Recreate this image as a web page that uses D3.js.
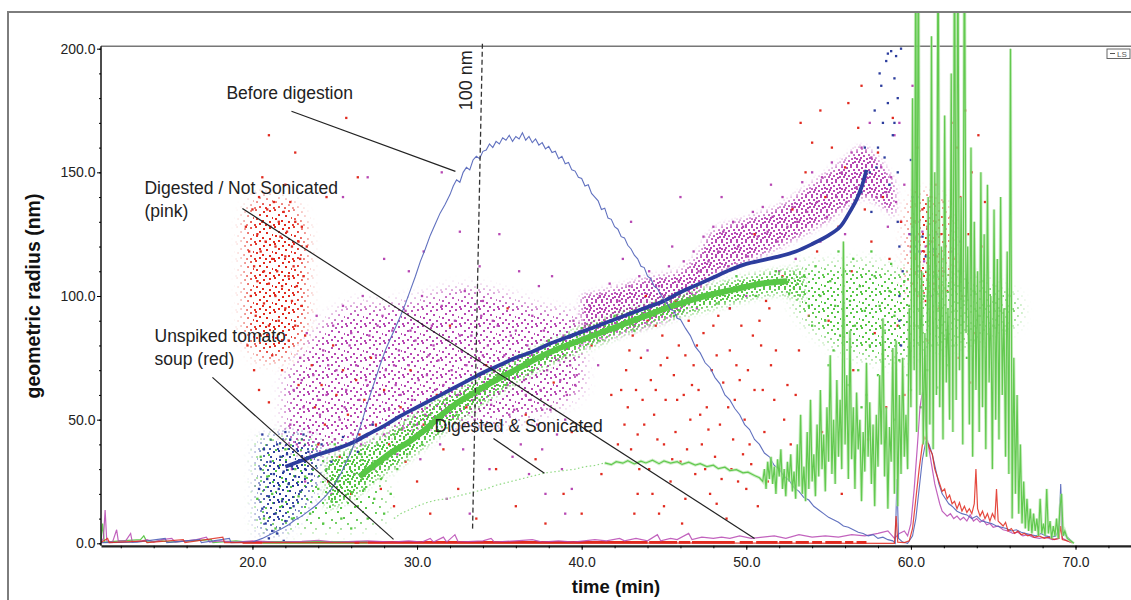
<!DOCTYPE html>
<html>
<head>
<meta charset="utf-8">
<script src="https://cdn.jsdelivr.net/npm/d3@7"></script>
<style>
  body { margin: 0; background: #fff; }
  text { font-family: "Liberation Sans", Arial, Helvetica, sans-serif; }
</style>
</head>
<body>
<svg id="chart" width="1131" height="600"></svg>
<script>
"use strict";
// ---- data (time in min, radius in nm) ----
const xTicks = [20, 30, 40, 50, 60, 70];
const yTicks = [0, 50, 100, 150, 200];

// LS detector traces
const blueLs = [[10.8,0.3],[13.0,0.5],[14.7,2],[14.8,0.3],[16.8,1.5],[16.9,0.3],[18.6,2],[18.7,0.3],[20.0,0.5],[20.6,2],[21.2,4],[21.8,6],[22.2,7.5],[22.6,9.5],[23.0,11],[23.3,12.5],[23.6,14],[23.9,15.5],[24.2,17.5],[24.5,19.5],[24.8,22],[25.1,25],[25.4,28.5],[25.7,33],[26.0,37],[26.3,42.5],[26.6,48],[26.9,55],[27.2,61],[27.5,67],[27.8,73],[28.1,78.5],[28.4,83],[28.7,87.5],[29.0,92],[29.3,97],[29.6,102.5],[29.9,108],[30.2,114],[30.5,119],[30.8,124.5],[31.1,129],[31.4,133.5],[31.7,137],[32.0,141],[32.2,144.5],[32.4,147],[32.6,146],[32.8,150],[33.0,152],[33.2,151],[33.4,155],[33.6,156.5],[33.8,155.5],[34.0,158.5],[34.2,159],[34.4,161.5],[34.6,160],[34.8,162.5],[35.0,161.5],[35.2,164],[35.4,163],[35.6,165],[35.8,162.5],[36.0,164.5],[36.2,163.5],[36.4,166],[36.6,163],[36.8,164.5],[37.0,162],[37.2,163.5],[37.4,161],[37.6,162],[37.8,159.5],[38.0,160.5],[38.2,158],[38.4,158.5],[38.6,155.5],[38.8,156.5],[39.0,153.5],[39.2,154],[39.4,151],[39.6,150.5],[39.8,148],[40.0,147.5],[40.2,144.5],[40.4,145],[40.6,141.5],[40.8,140],[41.0,138.5],[41.2,135],[41.4,135.5],[41.6,131.5],[41.8,131],[42.0,128],[42.2,127],[42.4,124],[42.6,123.5],[42.8,120.5],[43.0,119],[43.2,116.5],[43.4,115],[43.6,112],[43.8,111.5],[44.0,108],[44.2,107],[44.4,104],[44.6,103],[44.8,100.5],[45.0,98.5],[45.2,97],[45.4,94.5],[45.6,94],[45.8,91],[46.0,90.5],[46.3,87],[46.6,84],[46.9,79.5],[47.2,77],[47.5,73],[47.8,71],[48.1,67],[48.4,64.5],[48.7,60],[49.0,58],[49.3,54.5],[49.6,52],[49.9,48],[50.2,46],[50.5,42],[50.8,40],[51.1,36.5],[51.4,35],[51.7,31.5],[52.0,30],[52.3,27],[52.6,25.5],[52.9,22.5],[53.2,21],[53.5,18.5],[53.8,17.5],[54.1,15],[54.4,13.5],[54.7,12],[55.0,10.5],[55.3,9.5],[55.6,8.5],[55.9,7],[56.2,6.5],[56.5,5.5],[56.8,4.5],[57.1,4],[57.4,3],[57.7,3.5],[58.0,2],[58.3,2.5],[58.6,1.5],[58.9,1],[59.05,0],[59.15,26],[59.25,2],[59.5,0.5],[59.8,0],[60.1,3],[60.3,10],[60.5,22],[60.7,34],[60.9,41],[61.1,40],[61.3,36],[61.5,30],[61.7,24],[61.9,20],[62.1,18],[62.3,16],[62.5,15],[62.8,13],[63.1,12],[63.4,11.5],[63.7,10],[64.0,11],[64.3,9],[64.6,8.5],[64.9,8],[65.2,7],[65.5,6.5],[65.8,6],[66.1,5],[66.4,5.5],[66.7,4.5],[67.0,4],[67.3,3.5],[67.6,3],[67.9,4],[68.2,3],[68.5,2.5],[68.8,3],[69.0,6],[69.1,24],[69.2,5],[69.4,3],[69.6,2],[69.8,0.5]];

const redLs = [[10.8,0.3],[11.2,2],[11.3,0.3],[13.5,1],[13.6,0.3],[15.8,1.5],[15.9,0.3],[18.2,2.5],[18.3,0.3],[59.0,0],[59.1,11],[59.2,0.5],[59.6,0.3],[59.9,1],[60.1,6],[60.3,18],[60.5,30],[60.7,40],[60.85,43],[61.0,41],[61.15,38],[61.3,36],[61.45,30],[61.6,27],[61.75,24],[61.9,21],[62.05,22],[62.2,18],[62.35,19.5],[62.5,16],[62.65,17],[62.8,14],[62.95,16.5],[63.1,13],[63.25,15],[63.4,12.5],[63.55,14],[63.7,12],[63.85,16],[63.95,30],[64.05,14],[64.2,11],[64.35,13],[64.5,10],[64.65,12],[64.8,9],[64.95,12],[65.1,10],[65.2,22],[65.3,9],[65.45,8],[65.6,7],[65.75,8.5],[65.9,5],[66.1,6],[66.3,4],[66.5,5],[66.7,3.5],[66.9,4],[67.1,3],[67.3,3.5],[67.5,2.4],[67.8,3],[68.1,2],[68.4,2.5],[68.7,1.5],[69.0,2],[69.1,7],[69.2,1.5],[69.5,1],[69.8,0.3]];

const pinkLs = [[10.8,0.5],[10.95,2],[11.05,13.5],[11.15,1],[11.5,0.5],[11.75,5.5],[11.85,1],[12.3,1],[12.6,4],[12.7,0.5],[13.3,1],[13.6,1.5],[14.0,0.5],[14.5,1.5],[15.1,2],[15.3,0.5],[16.0,1],[16.6,1.5],[17.2,2.5],[17.4,0.5],[18.0,1],[19.0,0.5],[20.0,1],[21.5,0.5],[23.0,0.8],[24.0,1.2],[25.0,0.5],[27.0,1],[28.5,0.5],[29.5,1],[30.3,0.5],[30.8,2],[31.0,0.5],[31.6,2.5],[31.8,0.5],[32.3,3.5],[32.5,0.5],[34.0,1],[34.5,2],[34.7,0.5],[36.0,1],[37.0,1.5],[37.6,0.5],[38.6,1],[39.5,0.5],[40.8,1.5],[41.5,1],[42.3,2],[42.6,1],[43.3,2],[44.0,1],[44.6,3.5],[44.8,1],[45.4,2],[45.8,1.5],[46.5,4],[46.7,1.5],[47.3,2.5],[48.0,2],[48.5,2.5],[49.0,2],[49.6,3],[50.3,2],[51.0,2.5],[51.7,3],[52.4,2],[53.2,3.5],[54.0,2.5],[54.8,3],[55.6,2.5],[56.4,3.5],[57.2,3],[58.0,4],[58.6,5],[59.0,2],[59.3,4],[59.6,5],[59.8,3],[60.0,8],[60.2,22],[60.4,40],[60.55,55],[60.7,61],[60.8,58],[60.9,48],[61.0,42],[61.15,36],[61.3,30],[61.45,24],[61.6,20],[61.75,16],[61.9,13],[62.05,12],[62.2,11],[62.4,12],[62.6,10],[62.8,11],[63.0,9.5],[63.2,10.5],[63.4,9],[63.6,11.5],[63.8,9],[64.0,10],[64.2,8.5],[64.4,9.5],[64.6,7.5],[64.8,8],[65.0,6.5],[65.3,7],[65.6,5.5],[65.9,5],[66.2,4],[66.5,4.5],[66.8,3],[67.1,3.5],[67.4,2.5],[67.8,2],[68.2,2.5],[68.6,1.5],[69.0,2],[69.1,20],[69.2,2],[69.5,1],[69.8,0.3]];

const greenLsBase = [[10.8,0.5],[10.9,8],[11.0,0.5],[12.0,1],[13.2,1.5],[13.4,3],[13.6,0.5],[14.5,1],[15.0,0.5],[17.5,1.5],[17.6,0.3],[19.0,1],[20.0,0.3]];
const greenLsFaint = [[28.6,10],[29.0,12],[29.5,13.5],[30.0,15],[30.6,16.5],[31.2,17.5],[31.8,18],[32.4,19],[33.0,20],[33.6,21],[34.2,22],[34.8,23.5],[35.4,24.5],[36.0,25.5],[36.6,26.5],[37.2,27.5],[37.8,28.5],[38.4,29],[39.0,29.5],[39.6,30],[40.2,31],[40.8,31.5],[41.4,32.5]];
const greenLs = [[41.4,32.5],[41.8,31.8],[42.1,33],[42.5,32.4],[42.8,33.4],[43.2,32.1],[43.6,33.2],[43.9,32.5],[44.3,33.6],[44.7,32.2],[45.0,33.3],[45.4,32.4],[45.8,33],[46.1,31.9],[46.5,32.8],[46.9,31.6],[47.2,32.2],[47.6,31],[48.0,31.6],[48.3,30.2],[48.7,30.8],[49.0,29.4],[49.4,29.8],[49.8,28.5],[50.1,28.8],[50.5,27.4],[50.8,26.5],[51.0,25],[51.1,30],[51.2,22],[51.3,33],[51.4,26],[51.5,35],[51.6,24],[51.7,31],[51.8,20],[51.9,34],[52.0,27],[52.1,38],[52.2,22],[52.3,30],[52.4,19],[52.5,33],[52.6,25],[52.7,36],[52.8,21],[52.9,29],[53.0,18],[53.1,40],[53.2,23],[53.3,52],[53.4,20],[53.5,31],[53.6,17],[53.7,45],[53.8,22],[53.9,58],[54.0,25],[54.1,36],[54.2,19],[54.3,48],[54.4,27],[54.5,62],[54.6,30],[54.7,44],[54.8,21],[54.9,55],[55.0,33],[55.1,76],[55.2,28],[55.3,50],[55.4,24],[55.5,66],[55.6,35],[55.7,58],[55.8,30],[55.9,122],[56.0,40],[56.1,68],[56.2,26],[56.3,86],[56.4,34],[56.5,55],[56.6,22],[56.7,61],[56.8,38],[56.9,50],[57.0,17],[57.1,45],[57.2,29],[57.3,73],[57.4,35],[57.5,57],[57.6,24],[57.7,48],[57.8,15],[57.9,52],[58.0,31],[58.1,68],[58.2,40],[58.3,91],[58.4,27],[58.5,55],[58.6,14],[58.7,47],[58.8,33],[58.9,79],[59.0,20],[59.1,82],[59.2,15],[59.3,60],[59.4,28],[59.5,75],[59.6,35],[59.7,52],[59.8,30],[59.9,95],[60.0,55],[60.1,180],[60.2,70],[60.3,260],[60.35,45],[60.45,255],[60.55,60],[60.65,110],[60.75,40],[60.85,85],[60.95,35],[61.05,140],[61.15,48],[61.25,205],[61.35,38],[61.45,150],[61.55,60],[61.65,260],[61.75,55],[61.85,120],[61.95,42],[62.05,173],[62.15,65],[62.25,95],[62.35,50],[62.45,190],[62.55,45],[62.65,260],[62.75,58],[62.85,255],[62.95,70],[63.05,140],[63.15,40],[63.25,260],[63.35,85],[63.45,120],[63.55,48],[63.65,160],[63.75,35],[63.85,130],[63.95,62],[64.05,110],[64.15,45],[64.25,150],[64.35,55],[64.45,125],[64.55,38],[64.65,145],[64.75,65],[64.85,100],[64.95,30],[65.05,135],[65.15,50],[65.25,115],[65.35,42],[65.45,140],[65.55,60],[65.65,95],[65.75,35],[65.85,118],[65.95,28],[66.05,200],[66.15,10],[66.25,75],[66.35,20],[66.45,60],[66.55,12],[66.65,40],[66.75,8],[66.85,25],[66.95,6],[67.05,18],[67.15,5],[67.25,14],[67.35,4],[67.45,12],[67.55,5],[67.65,10],[67.75,3],[67.85,18],[67.95,4],[68.05,8],[68.15,3],[68.25,22],[68.35,4],[68.45,9],[68.55,2],[68.65,7],[68.75,3],[68.85,10],[68.95,2],[69.05,14],[69.15,20],[69.25,3],[69.35,5],[69.5,2],[69.7,1],[69.9,0]];

// radius scatter (MALS): dense streaks by centre line, clouds by lower/upper bounds
const blueBand = [[22.0,31],[23.0,33.5],[24.0,36],[25.0,38],[26.0,40.5],[27.0,44],[28.0,47.5],[29.0,51.5],[30.0,55],[31.0,58.5],[32.0,62],[33.0,65.5],[34.0,69],[35.0,72],[36.0,75],[37.0,77.5],[38.0,80.5],[39.0,83],[40.0,85.5],[41.0,88],[42.0,90.5],[43.0,93],[44.0,95.5],[45.0,98],[46.0,101.5],[47.0,104.5],[48.0,107.5],[49.0,110.5],[50.0,113],[51.0,114.5],[52.0,116],[53.0,118],[54.0,121],[55.0,124.5],[55.7,128],[56.2,133],[56.7,139],[57.0,144],[57.3,151]];
const greenBand = [[26.5,27],[27.5,32],[28.5,37],[29.5,41],[30.5,46],[31.5,52],[32.5,57],[33.5,61],[34.5,65],[35.5,68.5],[36.5,72],[37.5,75.5],[38.5,78.5],[39.5,81],[40.5,83.5],[41.5,86],[42.5,88.5],[43.5,91],[44.5,93.5],[45.5,96],[46.5,98],[47.5,100],[48.5,101.5],[49.5,103],[50.5,104.5],[51.5,105.5],[52.5,106]];

const pinkBandT = [40, 42, 44, 46, 47, 48, 50, 52, 54, 55, 56, 57, 58, 59];
const pinkBandLo = [80, 84, 88, 93, 100, 108, 114, 120, 127, 131, 136, 140, 138, 132];
const pinkBandHi = [100, 103, 107, 110, 116, 126, 131, 136, 145, 150, 155, 160, 155, 145];
const pinkCloudT = [22, 24, 26, 28, 30, 32, 34, 36, 38, 40];
const pinkCloudLo = [38, 36, 40, 44, 46, 48, 48, 50, 54, 62];
const pinkCloudHi = [66, 86, 96, 96, 98, 102, 102, 98, 94, 92];
const greenStreakT = [24.5, 26, 27.5, 29, 31, 33, 35, 37, 40, 43, 46, 49, 52, 53.5];
const greenStreakLo = [14, 18, 26, 32, 42, 52, 61, 69, 78, 86, 92, 97, 101, 98];
const greenStreakHi = [34, 38, 42, 48, 57, 64, 71, 78, 87, 94, 100, 106, 110, 110];
const greenCloudT = [53, 55, 57, 59, 61, 63, 65, 66.5];
const greenCloudLo = [95, 82, 76, 74, 78, 80, 84, 90];
const greenCloudHi = [112, 112, 113, 110, 110, 108, 104, 98];
const greenEarlyT = [20.3, 22, 24, 26, 28];
const greenEarlyLo = [6, 6, 6, 6, 9];
const greenEarlyHi = [42, 42, 40, 38, 33];
const blueEarlyT = [20.4, 21.5, 23, 24];
const blueEarlyLo = [6, 5, 14, 28];
const blueEarlyHi = [40, 43, 43, 40];
const redEarlyT = [19.6, 20.5, 21.5, 22.5, 23.2];
const redEarlyLo = [85, 75, 75, 78, 90];
const redEarlyHi = [130, 140, 138, 136, 125];
const redLateT = [59.9, 60.5, 61.5, 62.4];
const redLateLo = [100, 100, 100, 105];
const redLateHi = [135, 140, 140, 130];

const blueDots = [[20.4,22],[20.5,30],[20.6,14],[20.7,38],[20.8,8],[20.9,26],[21.0,19],[21.1,33],[21.2,5],[21.3,28],[21.4,12],[21.5,40],[21.6,22],[21.7,35],[21.8,17],[21.9,29],[22.0,9],[22.1,36],[22.2,24],[22.3,42],[22.4,31],[22.5,15],[22.6,27],[22.7,38],[22.8,33],[22.9,21],[23.0,35],[23.2,30],[23.4,37],[21.0,2],[21.5,4],[20.6,44],[22.0,45],[23.1,44],[21.9,1],[23.6,28],[24.2,40],[24.8,33],[25.5,43],[26.4,37],[27.3,48],[57.0,142],[57.2,160],[57.5,150],[57.8,175],[58.0,160],[58.2,185],[58.3,170],[58.5,195],[58.6,178],[58.8,199],[59.0,188],[59.1,197],[58.4,156],[57.6,134],[58.9,165],[59.2,180],[58.7,145],[59.4,200],[59.3,120],[59.5,110],[59.2,150],[59.2,130],[59.3,100],[59.3,90],[59.4,80],[57.9,152],[58.1,190],[58.6,198],[59.0,170],[60.0,155],[60.1,140],[60.0,125],[60.3,120],[60.5,118],[60.7,124],[60.9,116],[61.1,121],[60.4,110],[61.4,119]];

const greenDots = [[20.3,18],[20.5,35],[20.7,10],[20.9,27],[21.1,42],[21.2,20],[21.4,6],[21.6,31],[21.8,15],[22.0,38],[22.2,24],[22.4,10],[22.6,30],[22.8,19],[23.0,42],[23.2,27],[23.5,12],[23.8,35],[24.0,22],[24.3,8],[24.5,30],[24.8,17],[25.0,40],[25.2,25],[25.4,10],[25.6,33],[25.8,20],[26.0,6],[26.2,28],[26.4,15],[26.6,36],[26.8,22],[27.0,10],[27.2,30],[27.4,18],[27.6,40],[27.8,26],[28.0,12],[28.2,34],[28.4,20],[28.6,44],[28.8,30],[29.0,46],[29.4,36],[29.8,48],[30.3,40],[30.8,52],[31.3,45],[31.8,58],[32.4,52],[33.0,66],[33.8,58],[34.6,70],[35.4,64],[36.2,76],[37.0,70],[38.0,82],[39.0,76],[40.0,87],[41.0,82],[42.0,92],[43.2,86],[44.4,97],[45.6,92],[47.0,104],[48.2,97],[49.4,108],[50.6,100],[51.8,110],[52.6,101],[53.5,108],[53.8,96],[54.2,112],[54.5,100],[54.8,90],[55.1,106],[55.4,96],[55.7,84],[56.0,110],[56.3,98],[56.6,88],[56.9,104],[57.2,94],[57.5,80],[57.8,108],[58.1,96],[58.4,86],[58.7,102],[59.0,92],[59.3,74],[59.6,106],[59.9,96],[60.2,88],[60.5,112],[60.8,100],[61.1,90],[61.4,108],[61.7,96],[62.0,84],[62.3,104],[62.6,94],[62.9,110],[63.2,98],[63.5,86],[63.8,102],[64.1,92],[64.4,106],[64.7,96],[65.0,88],[55.0,72],[56.2,64],[57.0,55],[58.0,68],[59.0,50],[60.0,62],[61.0,70],[56.5,115],[57.6,118],[58.8,113],[60.3,117],[61.9,114],[62.6,80],[63.4,75],[54.0,88],[55.6,118],[55.3,78],[56.8,70],[58.3,76],[59.8,68],[61.3,80],[62.2,72],[63.9,82],[65.4,94],[66.0,100],[65.8,86],[57.3,60],[60.6,55],[61.6,63]];

const redDots = [[19.6,128],[19.8,118],[19.9,100],[20.0,135],[20.1,112],[20.2,92],[20.3,125],[20.3,106],[20.4,140],[20.5,118],[20.5,84],[20.6,130],[20.7,110],[20.7,97],[20.8,122],[20.9,135],[21.0,105],[21.0,88],[21.1,128],[21.2,115],[21.2,76],[21.3,138],[21.4,120],[21.4,100],[21.5,110],[21.6,130],[21.6,90],[21.7,124],[21.8,104],[21.8,70],[21.9,134],[22.0,116],[22.0,95],[22.1,126],[22.2,108],[22.2,82],[22.3,138],[22.4,120],[22.4,98],[22.5,112],[22.6,130],[22.6,88],[22.7,104],[22.8,122],[22.8,64],[22.9,115],[23.0,96],[23.0,128],[23.1,108],[23.2,84],[23.3,120],[20.4,62],[21.0,57],[20.1,70],[19.7,80],[20.6,148],[22.0,145],[21.0,165],[22.6,158],[25.7,172],[24.5,140],[26.4,148],[23.6,72],[23.8,55],[24.0,40],[24.2,64],[24.4,48],[24.6,25],[24.9,80],[25.1,60],[25.3,35],[25.5,70],[25.8,52],[26.0,20],[26.3,66],[26.5,44],[26.8,58],[27.0,30],[27.2,75],[27.5,48],[27.8,22],[28.0,62],[28.3,40],[28.6,15],[29.0,55],[29.3,33],[29.6,70],[30.0,25],[30.4,48],[30.8,12],[31.2,60],[31.6,38],[32.0,88],[32.5,22],[33.0,55],[33.6,10],[34.2,72],[34.8,30],[35.5,95],[36.0,15],[36.6,52],[37.2,34],[37.8,8],[38.3,65],[38.9,20],[39.4,45],[40.0,12],[40.6,80],[41.2,28],[41.8,60],[42.2,40],[42.5,92],[42.7,70],[42.8,55],[43.0,38],[43.1,84],[43.3,62],[43.4,20],[43.6,75],[43.8,48],[43.9,100],[44.1,30],[44.2,66],[44.4,52],[44.5,88],[44.7,12],[44.8,72],[45.0,40],[45.1,58],[45.3,95],[45.4,25],[45.6,68],[45.7,45],[45.9,80],[46.0,33],[46.2,60],[46.3,18],[46.5,90],[46.6,50],[46.8,72],[46.9,28],[47.1,62],[47.3,40],[47.4,85],[47.6,55],[47.8,20],[47.9,70],[48.1,35],[48.3,92],[48.4,48],[48.6,65],[48.8,10],[49.0,78],[49.2,42],[49.3,58],[49.5,25],[49.7,88],[49.9,50],[50.1,70],[50.3,32],[50.5,62],[50.7,15],[50.9,80],[51.1,45],[51.4,95],[51.7,58],[52.0,30],[42.9,78],[43.5,30],[44.0,90],[44.6,42],[45.2,75],[45.8,58],[46.4,38],[47.0,80],[47.7,46],[48.2,76],[48.9,55],[49.6,66],[50.2,40],[50.8,90],[51.5,72],[52.3,50],[43.2,12],[46.1,8],[49.1,30],[44.3,20],[47.5,30],[50.0,22],[42.6,48],[43.7,58],[44.9,84],[45.5,34],[46.7,64],[47.2,52],[48.0,88],[48.5,26],[49.4,72],[50.4,84],[51.0,62],[51.8,78],[52.5,64],[53.2,78],[53.8,92],[52.7,40],[49.8,36],[46.3,76],[44.5,62],[43.4,44],[42.4,62],[45.0,15],[48.2,16],[51.3,25],[49.0,95],[47.9,100],[45.7,98],[49.5,112],[50.5,125],[51.2,98],[52.2,108],[52.8,135],[53.3,170],[53.6,150],[54.0,162],[54.3,118],[54.5,175],[54.8,140],[55.2,160],[55.6,128],[56.0,152],[56.4,110],[56.8,168],[57.2,135],[57.6,122],[58.0,158],[58.3,140],[58.7,115],[58.9,172],[57.0,185],[56.2,178],[55.0,90],[56.5,70],[57.8,85],[53.0,60],[54.6,45],[55.8,20],[57.4,42],[58.5,55],[59.2,88],[59.4,130],[59.6,60],[60.0,120],[60.1,105],[60.2,130],[60.3,115],[60.4,100],[60.5,125],[60.6,110],[60.7,135],[60.8,118],[60.9,98],[61.0,128],[61.1,112],[61.2,140],[61.3,122],[61.4,105],[61.5,130],[61.6,116],[61.7,95],[61.8,125],[61.9,110],[62.0,138],[62.1,120],[62.2,102],[62.4,132],[62.6,115],[60.3,142],[61.5,145],[62.8,160],[63.0,140],[63.1,100],[63.3,175],[63.5,125],[63.7,150],[63.9,85],[64.1,165],[64.3,120],[64.5,138],[62.9,75],[63.6,65],[62.5,170],[60.4,160],[60.2,88],[61.0,82]];

const pinkDots = [[22.3,48],[22.5,62],[22.7,40],[22.9,75],[23.1,55],[23.3,85],[23.5,45],[23.7,68],[23.9,92],[24.1,52],[24.3,78],[24.5,60],[24.7,38],[24.9,88],[25.1,70],[25.3,50],[25.5,96],[25.7,62],[25.9,80],[26.1,44],[26.3,72],[26.5,58],[26.7,100],[26.9,66],[27.1,84],[27.3,48],[27.5,76],[27.7,60],[27.9,92],[28.1,70],[28.3,54],[28.5,86],[28.7,64],[28.9,78],[29.1,46],[29.3,94],[29.5,72],[29.7,58],[29.9,82],[30.1,66],[30.3,100],[30.5,52],[30.7,76],[30.9,88],[31.1,62],[31.3,74],[31.5,96],[31.7,56],[31.9,82],[32.1,70],[32.3,90],[32.5,60],[32.7,78],[32.9,102],[33.1,66],[33.3,84],[33.5,50],[33.7,74],[33.9,92],[34.1,62],[34.3,80],[34.5,56],[34.7,70],[34.9,88],[35.1,46],[35.3,76],[35.5,64],[35.7,84],[35.9,54],[36.1,72],[36.3,40],[36.5,66],[36.7,80],[36.9,58],[37.1,74],[37.3,48],[37.5,62],[37.7,86],[37.9,70],[38.1,54],[38.3,78],[38.5,44],[38.7,66],[38.9,84],[39.1,60],[39.3,72],[39.5,90],[39.7,68],[39.9,80],[22.4,30],[23.0,66],[23.6,35],[24.0,58],[24.6,72],[25.0,42],[25.6,55],[26.0,85],[26.6,40],[27.0,64],[27.6,88],[28.0,44],[28.6,72],[29.0,60],[29.6,86],[30.0,48],[30.6,68],[31.0,80],[31.6,64],[32.0,54],[32.6,84],[33.0,72],[33.6,60],[34.0,76],[34.6,90],[35.0,68],[35.6,52],[36.0,86],[36.6,60],[37.0,92],[37.6,54],[38.0,82],[38.6,74],[39.0,50],[39.6,64],[23.2,25],[24.8,20],[26.2,28],[27.4,30],[28.8,36],[30.2,34],[31.4,40],[32.8,38],[34.4,30],[35.8,35],[36.8,28],[37.6,38],[38.8,30],[39.4,22],[31.8,18],[33.2,12],[36.2,110],[37.4,104],[33.8,112],[30.4,118],[28.0,115],[35.0,125],[38.2,108],[29.5,110],[27.0,148],[25.5,140],[31.5,150],[32.6,126],[34.0,98],[39.0,12],[37.8,20],[40.2,88],[40.5,96],[40.8,84],[41.1,100],[41.4,90],[41.7,105],[42.0,86],[42.3,98],[42.6,92],[42.9,104],[43.2,88],[43.5,108],[43.8,96],[44.1,110],[44.4,92],[44.7,104],[45.0,100],[45.3,112],[45.6,96],[45.9,106],[46.2,114],[46.5,102],[46.8,118],[47.1,110],[47.4,124],[47.7,114],[48.0,128],[48.3,118],[48.6,126],[48.9,112],[49.2,130],[49.5,120],[49.8,128],[50.1,116],[50.4,134],[50.7,124],[51.0,136],[51.3,126],[51.6,132],[51.9,122],[52.2,140],[52.5,128],[52.8,136],[53.1,130],[53.4,146],[53.7,134],[54.0,150],[54.3,138],[54.6,148],[54.9,132],[55.2,154],[55.5,140],[55.8,150],[56.1,138],[56.4,158],[56.7,144],[57.0,160],[57.3,148],[57.6,156],[57.9,140],[58.2,152],[58.5,142],[58.8,148],[59.1,138],[59.4,130],[41.0,72],[42.5,115],[44.0,78],[45.5,120],[47.0,95],[48.5,140],[50.0,100],[51.5,145],[53.0,115],[54.5,122],[56.0,125],[57.5,170],[58.6,128],[59.0,165],[43.0,130],[46.0,140],[49.0,95],[52.0,110],[59.9,125],[60.0,118],[60.1,128],[60.2,115],[60.3,124],[60.4,112],[60.5,122],[60.6,118],[60.7,126],[60.8,114],[60.9,120],[61.0,116],[61.2,122],[61.4,118],[60.5,130],[61.6,125],[62.0,110],[62.5,118],[63.0,122],[60.1,185],[60.4,140],[61.2,100],[59.3,170],[59.6,145]];

// points sitting on the zero line (drawn as spans)
const redZeroSpans = [[19.4,20.6],[26.2,26.5],[27.0,44.0],[44.1,45.8],[45.9,46.6],[46.7,49.3],[49.6,50.4],[50.6,51.9],[52.0,52.8],[53.0,53.8],[54.0,54.6],[54.8,55.8],[56.0,56.5],[56.7,57.3]];
const greenZeroSpans = [[20.6,27.0]];

// annotations (anchored in data units)
const marker100 = [[33.97, 202], [33.37, 5.3]];
const notes = [
  { lines: ["Before digestion"], t: 18.42, r: 179.5, from: [22.37, 174.7], to: [32.33, 150.4] },
  { lines: ["Digested / Not Sonicated", "(pink)"], t: 13.44, r: 141.1, from: [19.39, 135.4], to: [50.5, 2.0] },
  { lines: ["Unspiked tomato", "soup (red)"], t: 14.05, r: 81.3, from: [17.57, 67.1], to: [28.57, 1.6] },
  { lines: ["Digested & Sonicated"], t: 31.06, r: 44.9, from: [34.64, 42.4], to: [37.74, 28.3] }
];

// ---- layout ----
const W = 1131, H = 600;
const plotLeft = 101, plotBottom = 545.8, plotTop = 46.2;
const colors = { blue: "#2c3d9d", blueLs: "#5062b8", green: "#57c645", greenLs: "#62c94f",
  pink: "#b748b3", red: "#e12a1f" };

const svg = d3.select("#chart");
const x = d3.scaleLinear().domain([10.8, 73.37]).range([plotLeft, W]);
const y = d3.scaleLinear().domain([-1, 201]).range([plotBottom, plotTop]);

const defs = svg.append("defs");
defs.append("clipPath").attr("id", "clipPlot").append("rect")
  .attr("x", plotLeft).attr("y", plotTop).attr("width", W - plotLeft).attr("height", plotBottom - plotTop);
defs.append("clipPath").attr("id", "clipFrame").append("rect")
  .attr("x", plotLeft).attr("y", 13).attr("width", W - plotLeft).attr("height", plotBottom - 13);
[["softL", 7], ["softS", 3]].forEach(([id, sd]) => {
  defs.append("filter").attr("id", id).attr("x", "-50%").attr("y", "-50%")
    .attr("width", "200%").attr("height", "200%")
    .append("feGaussianBlur").attr("stdDeviation", sd);
});

// dotted textures used to shade the crowded parts of the scatter clouds
const textures = {
  dense: { w: 15, h: 15, cells: [[0,0],[5,1],[9,0],[2,3],[7,4],[12,3],[0,7],[4,6],[10,7],[13,6],[2,10],[7,9],[11,11],[5,12],[0,13],[9,13],[13,10],[3,8]] },
  medium: { w: 19, h: 17, cells: [[1,0],[9,2],[15,1],[5,5],[12,6],[18,8],[2,9],[8,11],[15,12],[0,15],[11,15],[5,14]] },
  sparse: { w: 25, h: 21, cells: [[3,1],[16,2],[9,7],[22,9],[1,12],[13,13],[20,17],[6,18]] }
};
function texture(id, color, kind, shift) {
  const k = textures[kind];
  const p = defs.append("pattern").attr("id", id).attr("patternUnits", "userSpaceOnUse")
    .attr("width", k.w).attr("height", k.h).attr("x", shift).attr("y", Math.round(shift * 0.7));
  p.selectAll("rect").data(k.cells).join("rect")
    .attr("x", d => d[0]).attr("y", d => d[1]).attr("width", 2).attr("height", 2).attr("fill", color);
  return `url(#${id})`;
}

// outer frame
svg.append("path").attr("d", `M8,${H} V12 H${W}`)
  .attr("fill", "none").attr("stroke", "#7d7d7d").attr("stroke-width", 2);
// plot top border
svg.append("line").attr("x1", plotLeft).attr("x2", W).attr("y1", plotTop).attr("y2", plotTop)
  .attr("stroke", "#777").attr("stroke-width", 1.5);

const plot = svg.append("g").attr("clip-path", "url(#clipPlot)");
const line = d3.line().x(d => x(d[0])).y(d => y(d[1]));
const smooth = d3.line().x(d => x(d[0])).y(d => y(d[1])).curve(d3.curveCatmullRom);

// a cloud: the texture shown through a soft-edged mask of its bounds
let maskCount = 0;
function region(ts, lo, hi, fill, soft) {
  const id = "cloud" + (maskCount++);
  const shape = d3.area().x((d, i) => x(ts[i])).y0((d, i) => y(lo[i]))
    .y1((d, i) => y(hi[i])).curve(d3.curveCatmullRom)(ts);
  defs.append("mask").attr("id", id).attr("maskUnits", "userSpaceOnUse")
    .attr("x", 0).attr("y", 0).attr("width", W).attr("height", H)
    .append("path").attr("d", shape).attr("fill", "#fff").attr("filter", `url(#${soft || "softL"})`);
  plot.append("rect").attr("x", plotLeft).attr("y", plotTop)
    .attr("width", W - plotLeft).attr("height", plotBottom - plotTop)
    .attr("fill", fill).attr("mask", `url(#${id})`);
}
function dots(data, color, size) {
  plot.append("g").selectAll("rect").data(data).join("rect")
    .attr("x", d => x(d[0]) - size / 2).attr("y", d => y(d[1]) - size / 2)
    .attr("width", size).attr("height", size).attr("fill", color);
}

// pink (digested / not sonicated)
region(pinkCloudT, pinkCloudLo, pinkCloudHi, texture("pkM", colors.pink, "medium", 3));
region(pinkBandT, pinkBandLo, pinkBandHi, texture("pkD", colors.pink, "dense", 1), "softS");
dots(pinkDots, colors.pink, 2.3);
// red (unspiked soup)
region(redEarlyT, redEarlyLo, redEarlyHi, texture("rdM", colors.red, "medium", 7));
region(redLateT, redLateLo, redLateHi, texture("rdD", colors.red, "medium", 2));
dots(redDots, colors.red, 2.3);
// green (digested & sonicated)
region(greenEarlyT, greenEarlyLo, greenEarlyHi, texture("gnS", colors.green, "sparse", 9));
region(greenCloudT, greenCloudLo, greenCloudHi, texture("gnM", colors.green, "medium", 5));
region(greenStreakT, greenStreakLo, greenStreakHi, texture("gnD", colors.green, "dense", 4), "softS");
plot.append("path").attr("d", smooth(greenBand))
  .attr("fill", "none").attr("stroke", colors.green).attr("stroke-width", 6);
dots(greenDots, colors.green, 2.3);
// blue (before digestion)
region(blueEarlyT, blueEarlyLo, blueEarlyHi, texture("blM", colors.blue, "medium", 11));
plot.append("path").attr("d", smooth(blueBand))
  .attr("fill", "none").attr("stroke", colors.blue).attr("stroke-width", 3.8);
dots(blueDots, colors.blue, 2.3);

// zero-line points
function spans(data, color) {
  plot.append("g").selectAll("line").data(data).join("line")
    .attr("x1", d => x(d[0])).attr("x2", d => x(d[1]))
    .attr("y1", y(0.4)).attr("y2", y(0.4))
    .attr("stroke", color).attr("stroke-width", 2.6);
}
spans(greenZeroSpans, colors.green);
spans(redZeroSpans, colors.red);

// LS traces (green spikes run up to the outer frame)
const tall = svg.append("g").attr("clip-path", "url(#clipFrame)");
tall.append("path").attr("d", line(greenLs)).attr("fill", "none")
  .attr("stroke", "#b9e7ae").attr("stroke-width", 3).attr("opacity", 0.7);
tall.append("path").attr("d", line(greenLs)).attr("fill", "none")
  .attr("stroke", colors.greenLs).attr("stroke-width", 1.2);
plot.append("path").attr("d", line(greenLsBase)).attr("fill", "none")
  .attr("stroke", colors.greenLs).attr("stroke-width", 1.2);
plot.append("path").attr("d", line(greenLsFaint)).attr("fill", "none")
  .attr("stroke", "#8fd982").attr("stroke-width", 1.2).attr("stroke-dasharray", "1.5,2.5");
plot.append("path").attr("d", line(pinkLs)).attr("fill", "none")
  .attr("stroke", colors.pink).attr("stroke-width", 1.2).attr("opacity", 0.85);
plot.append("path").attr("d", line(blueLs)).attr("fill", "none")
  .attr("stroke", colors.blueLs).attr("stroke-width", 1.1).attr("opacity", 0.9);
plot.append("path").attr("d", line(redLs)).attr("fill", "none")
  .attr("stroke", colors.red).attr("stroke-width", 1.2).attr("opacity", 0.85);

// 100 nm marker
svg.append("path").attr("d", line(marker100)).attr("fill", "none")
  .attr("stroke", "#333").attr("stroke-width", 1.3).attr("stroke-dasharray", "5,3");
svg.append("text").attr("transform", `translate(${x(33.0) + 6},${y(187.2)}) rotate(-90)`)
  .attr("text-anchor", "middle").attr("font-size", 18).attr("fill", "#222").text("100 nm");

// annotations
notes.forEach(n => {
  svg.append("line").attr("x1", x(n.from[0])).attr("y1", y(n.from[1]))
    .attr("x2", x(n.to[0])).attr("y2", y(n.to[1]))
    .attr("stroke", "#222").attr("stroke-width", 1.2);
  const t = svg.append("text").attr("x", x(n.t)).attr("y", y(n.r))
    .attr("font-size", 17.5).attr("fill", "#222");
  n.lines.forEach((s, i) => t.append("tspan").attr("x", x(n.t)).attr("dy", i ? 23 : 0).text(s));
});

// axes
const fmt = d3.format(".1f");
const yAxis = svg.append("g").attr("transform", `translate(${plotLeft},0)`)
  .call(d3.axisLeft(y).tickValues(yTicks).tickFormat(fmt).tickSize(4).tickSizeOuter(0).tickPadding(1.5));
svg.append("g").attr("transform", `translate(${plotLeft},0)`)
  .call(d3.axisLeft(y).tickValues(d3.range(0, 201, 10)).tickFormat("").tickSize(2).tickSizeOuter(0))
  .select(".domain").remove();
yAxis.select(".domain").attr("d", `M0,${plotTop}V${plotBottom}`).attr("stroke", "#111").attr("stroke-width", 1.5);

const xAxis = svg.append("g").attr("transform", `translate(0,${plotBottom})`)
  .call(d3.axisBottom(x).tickValues(xTicks).tickFormat(fmt).tickSize(4).tickSizeOuter(0).tickPadding(7));
svg.append("g").attr("transform", `translate(0,${plotBottom})`)
  .call(d3.axisBottom(x).tickValues(d3.range(12, 73, 2)).tickFormat("").tickSize(2.5).tickSizeOuter(0))
  .select(".domain").remove();
xAxis.select(".domain").attr("stroke", "#222").attr("stroke-width", 2.2);

svg.selectAll(".tick text").attr("font-size", 14).attr("fill", "#222")
  .attr("font-family", '"Liberation Sans", Arial, sans-serif');

svg.append("text").attr("x", 616).attr("y", 593).attr("text-anchor", "middle")
  .attr("font-size", 18.5).attr("font-weight", "bold").attr("fill", "#111").text("time (min)");
svg.append("text").attr("transform", `translate(40,${(plotTop + plotBottom) / 2}) rotate(-90)`)
  .attr("text-anchor", "middle").attr("font-size", 19.5).attr("font-weight", "bold")
  .attr("fill", "#111").text("geometric radius (nm)");

// LS legend tag
const tag = svg.append("g").attr("transform", `translate(${W - 24},49)`);
tag.append("rect").attr("width", 23).attr("height", 9.5).attr("fill", "#fff")
  .attr("stroke", "#666").attr("stroke-width", 1);
tag.append("line").attr("x1", 3).attr("x2", 8).attr("y1", 4.5).attr("y2", 4.5).attr("stroke", "#555");
tag.append("text").attr("x", 10).attr("y", 8).attr("font-size", 8).attr("fill", "#555").text("LS");
</script>
</body>
</html>
